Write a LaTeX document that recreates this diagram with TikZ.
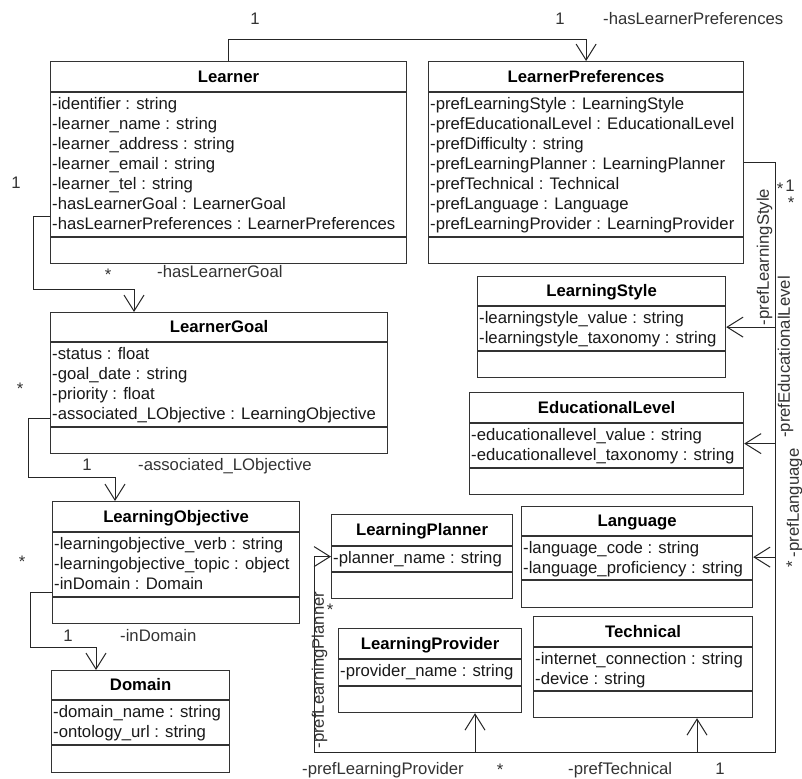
\documentclass[tikz,border=0pt]{standalone}
\usepackage{fontspec}
\setmainfont{Liberation Sans}
\usetikzlibrary{%
  arrows.meta,%
  calc%
}
\newcommand{\diagfont}{\fontsize{16.7}{20}\selectfont}
\tikzset{
  >={Straight Barb[length=16pt,width=20pt]},
  classbox/.style={draw=black!80, line width=1.2pt, fill=white, inner sep=0pt},
  classline/.style={draw=black!80, line width=1.2pt},
  classname/.style={font=\diagfont\bfseries, text height=11.8pt, text depth=0pt, inner sep=0pt},
  classattr/.style={anchor=north west, align=left, inner sep=0pt, text=black!90},
  assoc/.style={draw=black!85, line width=1pt},
  lbl/.style={text height=11.8pt, text depth=0pt, inner sep=0pt, text=black!80}
}
% #1 name, #2 north west corner, #3 width, #4 height,
% #5 title height, #6 attribute height, #7 title, #8 attributes
\newcommand{\umlclass}[8]{%
  \node[classbox, minimum width=#3, minimum height=#4, anchor=north west] (#1) at #2 {};
  \draw[classline] ([yshift=-#5]#1.north west) -- ([yshift=-#5]#1.north east);
  \draw[classline] ([yshift=-#5-#6]#1.north west) -- ([yshift=-#5-#6]#1.north east);
  \node[classname] (#1-name) at ([yshift=-#5/2]#1.north) {#7};
  \node[classattr] (#1-attr) at ([xshift=2,yshift=-#5-5]#1.north west) {#8};
}

\begin{document}
\begin{tikzpicture}[x=1pt,y=-1pt,font=\diagfont]
  \fill[white] (0,0) rectangle (802,778);
  \useasboundingbox (0,0) rectangle (802,778);

  % classes
  \umlclass{learner}{(50,61)}{356}{202}{31}{145}{Learner}{-identifier : string\\-learner\_name : string\\-learner\_address : string\\-learner\_email : string\\-learner\_tel : string\\-hasLearnerGoal : LearnerGoal\\-hasLearnerPreferences : LearnerPreferences}
  \umlclass{prefs}{(428,61)}{315}{202}{31}{145}{LearnerPreferences}{-prefLearningStyle : LearningStyle\\-prefEducationalLevel : EducationalLevel\\-prefDifficulty : string\\-prefLearningPlanner : LearningPlanner\\-prefTechnical : Technical\\-prefLanguage : Language\\-prefLearningProvider : LearningProvider}
  \umlclass{goal}{(50,312)}{337}{141}{30}{85}{LearnerGoal}{-status : float\\-goal\_date : string\\-priority : float\\-associated\_LObjective : LearningObjective}
  \umlclass{objective}{(52,501)}{247}{122}{31}{65}{LearningObjective}{-learningobjective\_verb : string\\-learningobjective\_topic : object\\-inDomain : Domain}
  \umlclass{domain}{(51,670)}{178}{102}{30}{45}{Domain}{-domain\_name : string\\-ontology\_url : string}
  \umlclass{style}{(477,276)}{248}{101}{30}{45}{LearningStyle}{-learningstyle\_value : string\\-learningstyle\_taxonomy : string}
  \umlclass{edulevel}{(469,392)}{274}{102}{31}{45}{EducationalLevel}{-educationallevel\_value : string\\-educationallevel\_taxonomy : string}
  \umlclass{language}{(521,506)}{231}{101}{30}{44}{Language}{-language\_code : string\\-language\_proficiency : string}
  \umlclass{technical}{(533,616)}{219}{101}{31}{44}{Technical}{-internet\_connection : string\\-device : string}
  \umlclass{planner}{(331,514)}{181}{84}{32}{26}{LearningPlanner}{-planner\_name : string}
  \umlclass{provider}{(338,628)}{183}{84}{31}{27}{LearningProvider}{-provider\_name : string}

  % associations on the left
  \draw[assoc,->] (learner.north) -- ++(0,-21) -| (prefs.north);
  \draw[assoc,->] ($(learner.north west)+(0,155)$) -- ++(-17,0) |- ($(goal.north west)+(84,-23)$) -- ($(goal.north west)+(84,0)$);
  \draw[assoc,->] ($(goal.north west)+(0,106)$) -- ++(-22,0) |- ($(objective.north west)+(63,-24)$) -- ($(objective.north west)+(63,0)$);
  \draw[assoc,->] ($(objective.north west)+(0,91)$) -- ++(-22,0) |- ($(domain.north west)+(45,-23)$) -- ($(domain.north west)+(45,0)$);

  % preferences bus
  \coordinate (bus-ne) at ($(prefs.east)+(31,0)$);
  \coordinate (bus-se) at ($(bus-ne)+(0,590)$);
  \coordinate (bus-sw) at ($(planner.west)+(-17,196)$);
  \coordinate (provider-in) at ($(provider.south west)+(137,0)$);
  \coordinate (technical-in) at ($(technical.south west)+(164,0)$);
  \draw[assoc,->] (prefs.east) -- (bus-ne) -- (bus-se) -- (bus-sw) -- (planner.west -| bus-sw) -- (planner.west);
  \draw[assoc,->] (bus-ne |- style.east) -- (style.east);
  \draw[assoc,->] (bus-ne |- edulevel.east) -- (edulevel.east);
  \draw[assoc,->] (bus-ne |- language.east) -- (language.east);
  \draw[assoc,->] (bus-sw -| provider-in) -- (provider-in);
  \draw[assoc,->] (bus-sw -| technical-in) -- (technical-in);

  % role names and multiplicities
  \node[lbl] (m-pref-src) at (255,19) {1};
  \node[lbl] (m-pref-dst) at (560,19) {1};
  \node[lbl,anchor=west] (r-pref) at (603,19) {-hasLearnerPreferences};
  \node[lbl] (m-goal-src) at (16,183) {1};
  \node[lbl] (m-goal-dst) at (108,275) {*};
  \node[lbl,anchor=west] (r-goal) at (157,272) {-hasLearnerGoal};
  \node[lbl] (m-obj-src) at (20,389) {*};
  \node[lbl] (m-obj-dst) at (87,465) {1};
  \node[lbl,anchor=west] (r-obj) at (138,465) {-associated\_LObjective};
  \node[lbl] (m-dom-src) at (22,562) {*};
  \node[lbl] (m-dom-dst) at (68,636) {1};
  \node[lbl,anchor=west] (r-dom) at (120,636) {-inDomain};
  \node[lbl,rotate=90] (r-style) at (763,257) {-prefLearningStyle};
  \node[lbl,rotate=90] (r-level) at (784,357) {-prefEducationalLevel};
  \node[lbl,rotate=90] (r-lang) at (793,503) {-prefLanguage};
  \node[lbl,rotate=90] (m-lang) at (792,564) {*};
  \node[lbl] (m-bus-a) at (780,189) {*};
  \node[lbl] (m-bus-b) at (790,186) {1};
  \node[lbl] (m-bus-c) at (791,203) {*};
  \node[lbl,rotate=90] (r-planner) at (318,670) {-prefLearningPlanner};
  \node[lbl] (m-planner) at (330,610) {*};
  \node[lbl,anchor=west] (r-provider) at (302,769) {-prefLearningProvider};
  \node[lbl] (m-provider) at (500,770) {*};
  \node[lbl,anchor=west] (r-technical) at (568,769) {-prefTechnical};
  \node[lbl] (m-technical) at (720,769) {1};
\end{tikzpicture}
\end{document}
